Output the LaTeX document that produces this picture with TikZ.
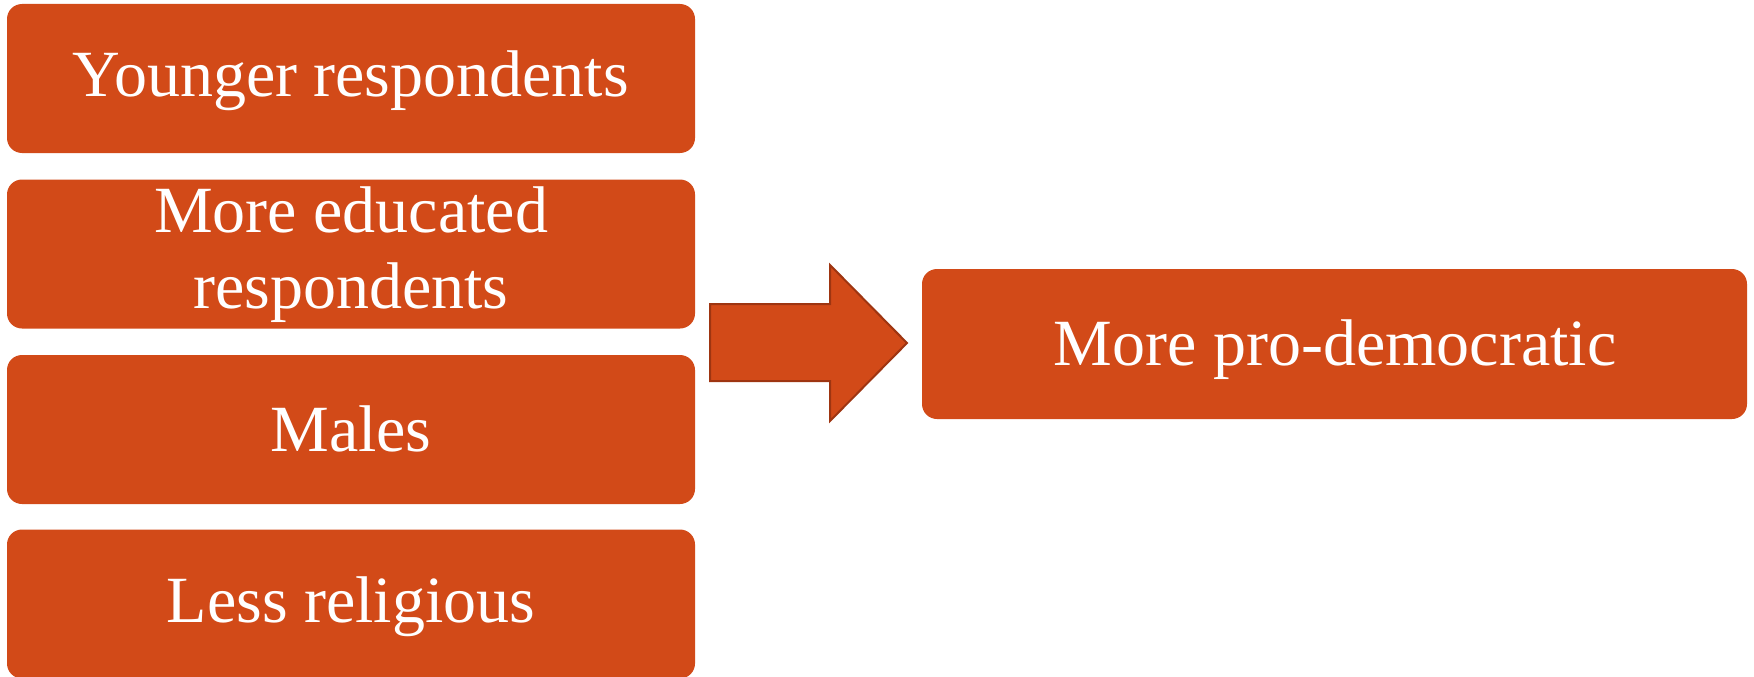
\documentclass[tikz,border=0pt]{standalone}
\usepackage{fontspec}
\setmainfont{Liberation Serif}
\definecolor{boxfill}{HTML}{D24A18}
\definecolor{arrowline}{HTML}{9E3511}
\begin{document}
\begin{tikzpicture}[x=1pt,y=-1pt,
  box/.style={fill=boxfill, draw=none, rounded corners=15pt, inner sep=0pt, outer sep=0pt,
              minimum width=688pt, minimum height=149pt},
  rbox/.style={box, minimum width=825pt, minimum height=150pt},
  lbl/.style={text=white, font=\fontsize{66}{76}\selectfont, anchor=base, inner sep=0pt},
  blockarrow/.style={fill=boxfill, draw=arrowline, line width=2pt, line join=miter},
]
\useasboundingbox (0,0) rectangle (1754,677);
% left boxes
\node[box] (b1) at (351,78.5) {};
\node[box] (b2) at (351,254) {};
\node[box] (b3) at (351,429.5) {};
\node[box] (b4) at (351,604) {};
% right box
\node[rbox] (r) at (1334.5,344) {};
% texts
\node[lbl] (t1) at (351,96) {Younger respondents};
\node[lbl] (t2a) at (351,232) {More educated};
\node[lbl] (t2b) at (351,308) {respondents};
\node[lbl] (t3) at (351,451) {Males};
\node[lbl] (t4) at (351,622) {Less religious};
\node[lbl] (tr) at (1335,365) {More pro-democratic};
% block arrow
\draw[blockarrow] (710,304) -- (830,304) -- (830,265) -- (907,343)
  -- (830,421) -- (830,381) -- (710,381) -- cycle;
\end{tikzpicture}
\end{document}
